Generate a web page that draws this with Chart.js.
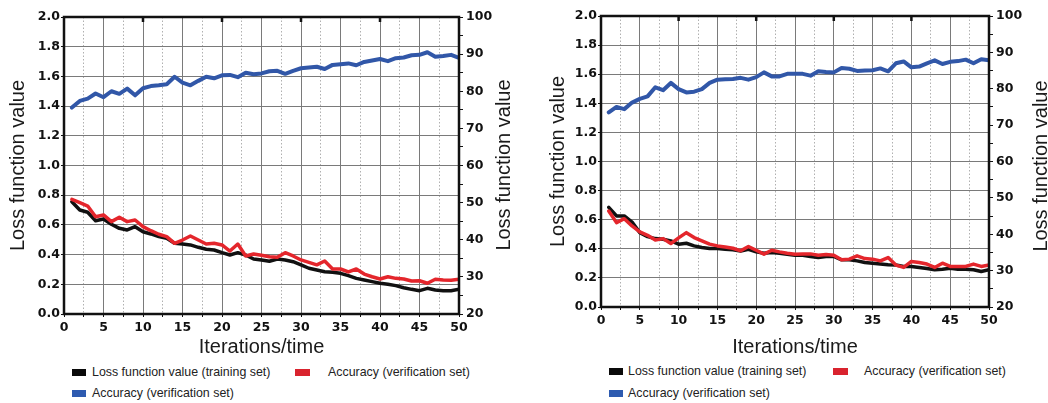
<!DOCTYPE html>
<html>
<head>
<meta charset="utf-8">
<script src="https://cdn.jsdelivr.net/npm/chart.js@4.4.1/dist/chart.umd.min.js"></script>
<style>
  body { margin: 0; background: #fff; }
  #page { position: relative; width: 1048px; height: 403px; overflow: hidden; font-family: "Liberation Sans", Arial, sans-serif; }
  .panel { position: absolute; top: 0; }
  .side-title { position: absolute; width: 240px; height: 24px; line-height: 24px; text-align: center; font-size: 20px; color: #1a1a1a; transform: rotate(-90deg); }
  .legend-text { position: absolute; font-size: 12.4px; line-height: 14px; color: #222; white-space: nowrap; }
  .swatch { position: absolute; height: 7px; }
</style>
</head>
<body>
<div id="page">
  <canvas id="chartA" class="panel" width="520" height="360" style="left:0"></canvas>
  <canvas id="chartB" class="panel" width="518" height="360" style="left:530px"></canvas>
</div>
<script>
// x values (iterations)
const iterations = [1, 2, 3, 4, 5, 6, 7, 8, 9, 10, 11, 12, 13, 14, 15, 16, 17, 18, 19, 20,
  21, 22, 23, 24, 25, 26, 27, 28, 29, 30, 31, 32, 33, 34, 35, 36, 37, 38, 39, 40,
  41, 42, 43, 44, 45, 46, 47, 48, 49, 50];

const seriesNames = ['Loss function value (training set)', 'Accuracy (verification set)', 'Accuracy (verification set)'];
const seriesColors = ['#111111', '#e4262c', '#3157a8'];
const swatchColors = ['#0a0a0a', '#d9232e', '#2e5bb0'];

// tick labels
const xTickLabels = [0, 5, 10, 15, 20, 25, 30, 35, 40, 45, 50];
const lossTickLabels = [0, 0.2, 0.4, 0.6, 0.8, 1.0, 1.2, 1.4, 1.6, 1.8, 2.0];
const accTickLabels = [20, 30, 40, 50, 60, 70, 80, 90, 100];

// left chart
const trainLossA = [0.756, 0.700, 0.685, 0.628, 0.640, 0.604, 0.577, 0.566, 0.588, 0.554,
  0.539, 0.521, 0.510, 0.476, 0.471, 0.465, 0.449, 0.436, 0.431, 0.413,
  0.397, 0.413, 0.397, 0.370, 0.364, 0.355, 0.370, 0.364, 0.352, 0.331,
  0.308, 0.296, 0.285, 0.281, 0.274, 0.258, 0.240, 0.229, 0.218, 0.207,
  0.200, 0.191, 0.177, 0.166, 0.157, 0.173, 0.162, 0.157, 0.157, 0.166];
const validLossA = [0.772, 0.750, 0.727, 0.655, 0.667, 0.622, 0.651, 0.622, 0.633, 0.588,
  0.561, 0.537, 0.521, 0.476, 0.498, 0.525, 0.498, 0.471, 0.476, 0.465,
  0.424, 0.471, 0.391, 0.404, 0.395, 0.386, 0.382, 0.413, 0.391, 0.364,
  0.348, 0.331, 0.357, 0.303, 0.303, 0.283, 0.303, 0.269, 0.251, 0.236,
  0.251, 0.240, 0.236, 0.222, 0.224, 0.207, 0.234, 0.229, 0.227, 0.234];
const accuracyA = [75.6, 77.4, 78.0, 79.4, 78.4, 80.0, 79.3, 80.7, 78.9, 80.8,
  81.4, 81.6, 81.9, 83.9, 82.3, 81.6, 82.8, 83.9, 83.5, 84.3,
  84.4, 83.8, 85.0, 84.6, 84.8, 85.4, 85.5, 84.7, 85.5, 86.2,
  86.4, 86.6, 86.0, 87.1, 87.3, 87.5, 87.0, 87.9, 88.3, 88.7,
  88.1, 88.9, 89.1, 89.7, 89.8, 90.5, 89.3, 89.5, 89.8, 89.0];

// right chart
const trainLossB = [0.685, 0.626, 0.626, 0.584, 0.511, 0.484, 0.470, 0.466, 0.454, 0.432,
  0.438, 0.420, 0.409, 0.402, 0.402, 0.397, 0.393, 0.384, 0.397, 0.379,
  0.370, 0.374, 0.370, 0.363, 0.356, 0.356, 0.347, 0.340, 0.347, 0.347,
  0.324, 0.324, 0.317, 0.306, 0.301, 0.295, 0.290, 0.288, 0.279, 0.279,
  0.272, 0.265, 0.256, 0.260, 0.267, 0.260, 0.260, 0.256, 0.244, 0.256];
const validLossB = [0.660, 0.580, 0.607, 0.557, 0.516, 0.493, 0.461, 0.470, 0.436, 0.475,
  0.511, 0.477, 0.454, 0.432, 0.420, 0.413, 0.404, 0.386, 0.416, 0.390,
  0.363, 0.390, 0.379, 0.370, 0.363, 0.365, 0.365, 0.356, 0.361, 0.356,
  0.324, 0.329, 0.352, 0.333, 0.329, 0.317, 0.340, 0.288, 0.272, 0.313,
  0.306, 0.295, 0.272, 0.301, 0.279, 0.279, 0.279, 0.295, 0.279, 0.288];
const accuracyB = [73.5, 75.0, 74.4, 76.2, 77.2, 77.9, 80.4, 79.6, 81.6, 79.9,
  79.0, 79.2, 79.9, 81.6, 82.5, 82.6, 82.7, 83.0, 82.5, 83.2,
  84.5, 83.4, 83.4, 84.1, 84.1, 84.1, 83.6, 84.8, 84.6, 84.5,
  85.7, 85.5, 84.9, 85.0, 85.1, 85.6, 84.8, 87.0, 87.5, 85.9,
  86.1, 87.0, 87.8, 86.8, 87.4, 87.6, 88.0, 87.0, 88.1, 87.8];

const tickFont = { family: 'DejaVu Sans', weight: 'bold', size: 12.5 };
const titleFont = { family: 'Liberation Sans', size: 20 };
const majorGrid = '#7a7a7a';
const minorGrid = '#b0b0b0';

function onList(list, v) {
  return list.some(t => Math.abs(t - v) < 1e-6);
}

// black frame round the plot, with short inward marks on top every 10
const framePlugin = {
  id: 'frame',
  afterDatasetsDraw(chart) {
    const { ctx, chartArea: a } = chart;
    const xs = chart.scales.x;
    ctx.save();
    ctx.strokeStyle = '#111';
    ctx.lineWidth = 2.5;
    ctx.strokeRect(a.left, a.top, a.right - a.left, a.bottom - a.top);
    ctx.beginPath();
    xTickLabels.filter(v => v % 10 === 0 && v > 0 && v < 50).forEach(v => {
      const px = xs.getPixelForValue(v);
      ctx.moveTo(px, a.top);
      ctx.lineTo(px, a.top + 5);
    });
    ctx.stroke();
    ctx.restore();
  }
};

function makeChart(id, train, valid, acc, box) {
  const toPoints = arr => arr.map((v, i) => ({ x: iterations[i], y: v }));
  return new Chart(document.getElementById(id), {
    type: 'line',
    data: {
      datasets: [
        { label: seriesNames[0], data: toPoints(train), borderColor: seriesColors[0], borderWidth: 3.5, order: 1 },
        { label: seriesNames[1], data: toPoints(valid), borderColor: seriesColors[1], borderWidth: 3.5, order: 0 },
        { label: seriesNames[2], data: toPoints(acc), borderColor: seriesColors[2], borderWidth: 4, order: 2, yAxisID: 'y1' }
      ]
    },
    options: {
      responsive: false,
      animation: false,
      events: [],
      elements: { point: { radius: 0 }, line: { tension: 0, borderJoinStyle: 'round', borderCapStyle: 'round' } },
      layout: { padding: { top: box.top, left: 0, right: 0, bottom: 0 } },
      plugins: { legend: { display: false }, tooltip: { enabled: false } },
      scales: {
        x: {
          type: 'linear', min: 0, max: 50,
          afterFit: s => { s.height = box.xHeight; },
          ticks: {
            stepSize: 2.5, autoSkip: false, maxRotation: 0, maxTicksLimit: 100,
            font: tickFont, color: '#111', padding: 3,
            callback: v => onList(xTickLabels, v) ? String(v) : ''
          },
          grid: {
            color: c => onList(xTickLabels, c.tick.value) ? majorGrid : minorGrid,
            tickColor: '#111', tickLength: 3, lineWidth: 1
          },
          border: { display: false, dash: c => (c.tick && !onList(xTickLabels, c.tick.value)) ? [1.5, 2] : [] },
          title: { display: true, text: 'Iterations/time', font: titleFont, color: '#1a1a1a', padding: { top: 0, bottom: 1 } }
        },
        y: {
          min: 0, max: 2, position: 'left',
          afterFit: s => { s.width = box.yWidth; },
          ticks: {
            stepSize: 0.1, maxTicksLimit: 100, font: tickFont, color: '#111', padding: 1,
            callback: v => onList(lossTickLabels, v) ? v.toFixed(1) : ''
          },
          grid: {
            color: c => onList(lossTickLabels, c.tick.value) ? majorGrid : minorGrid,
            tickColor: '#111', tickLength: 3, lineWidth: 1
          },
          border: { display: false, dash: c => (c.tick && !onList(lossTickLabels, c.tick.value)) ? [1.5, 2] : [] },
          title: { display: true, text: 'Loss function value', font: titleFont, color: '#1a1a1a', padding: { top: box.yTitlePad, bottom: 0 } }
        },
        y1: {
          min: 20, max: 100, position: 'right',
          afterFit: s => { s.width = box.y1Width; },
          ticks: {
            stepSize: 5, maxTicksLimit: 100, font: tickFont, color: '#111', padding: 3,
            callback: v => onList(accTickLabels, v) ? String(v) : ''
          },
          grid: { drawOnChartArea: false, tickColor: '#111', tickLength: 4 },
          border: { display: false }
        }
      }
    },
    plugins: [framePlugin]
  });
}

makeChart('chartA', trainLossA, validLossA, accuracyA, { top: 17, xHeight: 46, yWidth: 64, y1Width: 61, yTitlePad: 6 });
makeChart('chartB', trainLossB, validLossB, accuracyB, { top: 16, xHeight: 53, yWidth: 71, y1Width: 59, yTitlePad: 16 });

// right-hand axis titles, read bottom to top like the left ones
const page = document.getElementById('page');
[[503, 165], [1040, 166]].forEach(([cx, cy]) => {
  const t = document.createElement('div');
  t.className = 'side-title';
  t.textContent = 'Loss function value';
  t.style.left = (cx - 120) + 'px';
  t.style.top = (cy - 12) + 'px';
  page.appendChild(t);
});

// legends under each chart
const legendSpots = [
  { s: 0, box: 72, w: 14, text: 92, y: 372 },
  { s: 1, box: 295, w: 15, text: 328, y: 372 },
  { s: 2, box: 72, w: 14, text: 92, y: 393 },
  { s: 0, box: 609, w: 14, text: 628, y: 371 },
  { s: 1, box: 833, w: 15, text: 864, y: 371 },
  { s: 2, box: 609, w: 14, text: 628, y: 393 }
];
legendSpots.forEach(p => {
  const sw = document.createElement('div');
  sw.className = 'swatch';
  sw.style.left = p.box + 'px';
  sw.style.top = (p.y - 3.5) + 'px';
  sw.style.width = p.w + 'px';
  sw.style.background = swatchColors[p.s];
  page.appendChild(sw);
  const tx = document.createElement('div');
  tx.className = 'legend-text';
  tx.style.left = p.text + 'px';
  tx.style.top = (p.y - 7) + 'px';
  tx.textContent = seriesNames[p.s];
  page.appendChild(tx);
});
</script>
</body>
</html>
